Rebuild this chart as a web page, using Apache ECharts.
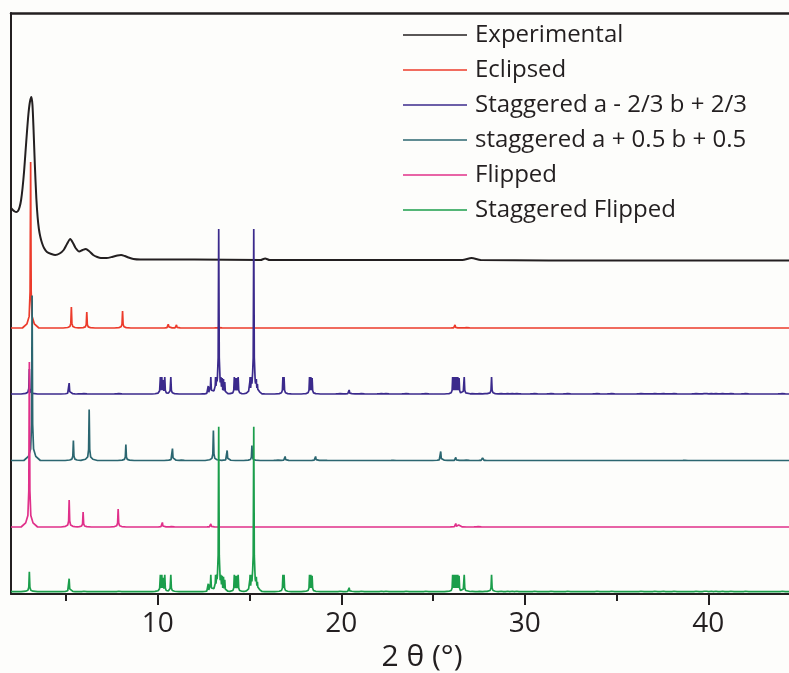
<!DOCTYPE html>
<html>
<head>
<meta charset="utf-8">
<script src="https://cdn.jsdelivr.net/npm/echarts@6/dist/echarts.min.js"></script>
<style>
  html, body { margin: 0; padding: 0; background: #fdfdfb; }
  #chart { width: 789px; height: 673px; }
</style>
</head>
<body>
<div id="chart"></div>
<script>
// ---- Powder diffraction patterns, 2θ in degrees ----
const seriesNames = [
  'Experimental',
  'Eclipsed',
  'Staggered a - 2/3 b + 2/3',
  'staggered a + 0.5 b + 0.5',
  'Flipped',
  'Staggered Flipped'
];
const seriesColors = ['#231f20', '#ec3b2b', '#3b2a8c', '#2b6670', '#e0308a', '#1b9e4b'];

// vertical stacking offset of each pattern (intensity units)
const stackOffsets = [334, 266, 200, 133.5, 67, 2.3];

// measured pattern: [2θ, intensity]
const experimental = [
  [2.0, 52], [2.1, 50], [2.2, 48.5], [2.29, 48], [2.38, 49], [2.47, 53], [2.55, 60],
  [2.63, 72], [2.71, 88], [2.79, 108], [2.87, 128], [2.95, 146], [3.03, 158], [3.11, 163],
  [3.17, 155], [3.23, 130], [3.3, 95], [3.38, 62], [3.45, 43], [3.52, 31], [3.6, 23],
  [3.69, 17], [3.8, 12], [3.96, 8], [4.2, 6], [4.41, 5], [4.65, 6.5], [4.87, 10],
  [5.05, 16], [5.23, 21], [5.38, 17], [5.52, 12], [5.72, 8.5], [5.9, 10], [6.08, 11],
  [6.25, 9], [6.48, 5], [6.7, 3], [6.9, 2], [7.2, 2], [7.5, 3], [7.8, 4.5], [8.0, 5],
  [8.2, 4], [8.4, 2.5], [8.67, 1], [9.05, 0.5], [12.0, 0.5], [15.6, 0], [15.85, 1.5],
  [16.1, 0], [26.6, 0], [27.1, 2], [27.6, 0], [35.0, -0.5], [44.4, -0.5]
];

// simulated patterns: peak list [2θ, peak height]
const eclipsedPeaks = [
  [3.07, 166], [5.29, 21], [6.13, 16], [8.08, 17], [10.58, 5], [11.02, 3],
  [13.3, 2], [26.2, 3], [26.8, 2]
];
const staggeredTwoThirdPeaks = [
  [3.0, 25], [5.17, 11], [5.94, 2], [7.84, 2],
  [10.14, 17], [10.22, 17], [10.3, 14], [10.38, 17], [10.71, 17],
  [12.75, 8], [12.89, 17],
  [13.15, 17], [13.22, 17], [13.28, 17], [13.32, 165], [13.37, 17], [13.44, 17], [13.51, 16], [13.58, 15], [13.65, 12],
  [14.17, 17], [14.24, 16], [14.31, 16], [14.38, 17],
  [15.03, 17], [15.1, 17], [15.17, 17], [15.23, 165], [15.3, 17], [15.37, 15], [15.43, 10],
  [16.82, 17], [16.88, 17],
  [18.27, 17], [18.34, 17], [18.41, 16],
  [19.9, 2], [20.43, 4], [20.55, 2], [21.06, 2], [22.15, 2], [22.4, 2], [23.5, 2], [24.57, 2],
  [26.07, 17], [26.14, 17], [26.21, 17], [26.28, 17], [26.35, 17], [26.42, 16], [26.7, 17],
  [27.1, 1.5], [27.5, 1.5], [27.8, 1.5],
  [28.19, 17], [28.75, 2], [29.1, 2], [29.35, 2], [29.6, 2], [30.5, 2], [31.4, 2], [32.3, 2],
  [33.9, 2], [34.7, 2], [36.3, 2], [37.05, 2], [37.6, 2], [38.1, 2], [39.3, 2], [39.75, 2],
  [39.95, 2], [40.2, 2], [40.45, 2], [40.75, 2], [41.2, 2], [42.0, 2], [44.0, 2]
];
const staggeredHalfPeaks = [
  [3.15, 165], [5.4, 20], [6.26, 51], [8.26, 16], [10.8, 12], [11.25, 2],
  [13.03, 30], [13.78, 10], [15.13, 15], [16.52, 2], [16.94, 4], [18.6, 4], [19.15, 1],
  [22.8, 1], [25.42, 9], [26.24, 3], [26.78, 2], [27.7, 2.5], [38.7, 1]
];
const flippedPeaks = [
  [3.0, 165], [5.17, 27], [5.93, 15], [7.84, 18], [10.25, 4.5], [10.71, 2],
  [12.89, 3], [26.24, 3.5], [26.4, 2], [27.43, 1.5]
];
const staggeredFlippedPeaks = [
  [3.0, 20], [5.17, 13], [5.94, 2], [7.84, 2],
  [10.14, 17], [10.22, 17], [10.3, 14], [10.38, 17], [10.71, 17],
  [12.75, 8], [12.89, 17],
  [13.15, 17], [13.22, 17], [13.28, 17], [13.32, 165], [13.37, 17], [13.44, 17], [13.51, 16], [13.58, 15], [13.65, 12],
  [14.17, 17], [14.24, 16], [14.31, 16], [14.38, 17],
  [15.03, 17], [15.1, 17], [15.17, 17], [15.23, 165], [15.3, 17], [15.37, 15], [15.43, 10],
  [16.82, 17], [16.88, 17],
  [18.27, 17], [18.34, 17], [18.41, 16],
  [19.9, 2], [20.43, 4], [20.55, 2], [21.06, 2], [22.15, 2], [22.4, 2], [23.5, 2], [24.57, 2],
  [26.07, 17], [26.14, 17], [26.21, 17], [26.28, 17], [26.35, 17], [26.42, 16], [26.7, 17],
  [27.1, 1.5], [27.5, 1.5], [27.8, 1.5],
  [28.19, 17], [28.75, 2], [29.1, 2], [29.35, 2], [29.6, 2], [30.5, 2], [31.4, 2], [32.3, 2],
  [33.9, 2], [34.7, 2], [36.3, 2], [37.05, 2], [37.6, 2], [38.1, 2], [39.3, 2], [39.75, 2],
  [39.95, 2], [40.2, 2], [40.45, 2], [40.75, 2], [41.2, 2], [42.0, 2], [44.0, 2]
];

const labelTicks = [10, 20, 30, 40];
const minorTicks = [5, 15, 25, 35];
const X_MIN = 2, X_MAX = 44.4;

// ---- drawing helpers ----
// outline of a single reflection, relative to its position and height
const PEAK_DX = [-0.45, -0.2, -0.08, -0.03, 0, 0.03, 0.08, 0.2, 0.45];
const PEAK_FR = [0, 0.025, 0.07, 0.22, 1, 0.22, 0.07, 0.025, 0];

function peakOutline(d) {
  if (d <= PEAK_DX[0] || d >= PEAK_DX[PEAK_DX.length - 1]) return 0;
  for (let i = 1; i < PEAK_DX.length; i++) {
    if (d <= PEAK_DX[i]) {
      const t = (d - PEAK_DX[i - 1]) / (PEAK_DX[i] - PEAK_DX[i - 1]);
      return PEAK_FR[i - 1] + t * (PEAK_FR[i] - PEAK_FR[i - 1]);
    }
  }
  return 0;
}

// stick pattern -> polyline through the outline of every reflection
function patternTrace(peaks) {
  const xs = new Set([X_MIN, X_MAX]);
  peaks.forEach(([p]) => PEAK_DX.forEach(d => xs.add(+(p + d).toFixed(4))));
  return [...xs]
    .filter(x => x >= X_MIN && x <= X_MAX)
    .sort((a, b) => a - b)
    .map(x => {
      let y = 0;
      for (const [p, h] of peaks) {
        const v = peakOutline(x - p) * h;
        if (v > y) y = v;
      }
      return [x, y];
    });
}

const traces = [
  experimental,
  patternTrace(eclipsedPeaks),
  patternTrace(staggeredTwoThirdPeaks),
  patternTrace(staggeredHalfPeaks),
  patternTrace(flippedPeaks),
  patternTrace(staggeredFlippedPeaks)
];

const FONT = '"Open Sans", "Noto Sans", sans-serif';
const INK = '#231f20';

const series = traces.map((pts, i) => ({
  name: seriesNames[i],
  type: 'line',
  data: pts.map(([x, y]) => [x, y + stackOffsets[i]]),
  showSymbol: false,
  smooth: i === 0 ? 0.25 : false,
  lineStyle: { color: seriesColors[i], width: i === 0 ? 2 : 1.7 },
  itemStyle: { color: seriesColors[i] },
  silent: true,
  animation: false,
  z: 2 + i
}));

const chart = echarts.init(document.getElementById('chart'), null, { renderer: 'canvas' });
chart.setOption({
  backgroundColor: '#fdfdfb',
  animation: false,
  color: seriesColors,
  grid: { left: 11, right: 0, top: 13, bottom: 79, containLabel: false, outerBoundsMode: 'none' },
  legend: {
    orient: 'vertical',
    left: 398,
    top: 17,
    icon: 'rect',
    itemWidth: 64,
    itemHeight: 1.5,
    itemGap: 9,
    selectedMode: false,
    data: seriesNames,
    textStyle: { fontFamily: FONT, fontSize: 24, color: INK, lineHeight: 26, padding: [0, 0, 0, 3] }
  },
  xAxis: [
    {
      type: 'value',
      min: X_MIN,
      max: X_MAX,
      position: 'bottom',
      name: '2 θ (°)',
      nameLocation: 'middle',
      nameGap: 48,
      nameTextStyle: { fontFamily: FONT, fontSize: 30, color: INK, padding: [0, 0, 0, 44] },
      axisLine: { show: true, onZero: false, lineStyle: { color: INK, width: 2 } },
      axisTick: { show: true, customValues: labelTicks, length: 11, inside: false, lineStyle: { color: INK, width: 2 } },
      axisLabel: { show: true, customValues: labelTicks, margin: 16, fontFamily: FONT, fontSize: 28, color: INK },
      splitLine: { show: false }
    },
    {
      type: 'value',
      min: X_MIN,
      max: X_MAX,
      position: 'bottom',
      axisLine: { show: false },
      axisTick: { show: true, customValues: minorTicks, length: 7, lineStyle: { color: INK, width: 2 } },
      axisLabel: { show: false },
      splitLine: { show: false }
    },
    {
      type: 'value',
      min: X_MIN,
      max: X_MAX,
      position: 'top',
      axisLine: { show: true, lineStyle: { color: INK, width: 2.5 } },
      axisTick: { show: false },
      axisLabel: { show: false },
      splitLine: { show: false }
    }
  ],
  yAxis: {
    type: 'value',
    min: 0,
    max: 581,
    axisLine: { show: true, onZero: false, lineStyle: { color: INK, width: 2 } },
    axisTick: { show: false },
    axisLabel: { show: false },
    splitLine: { show: false }
  },
  series: series
});
</script>
</body>
</html>
